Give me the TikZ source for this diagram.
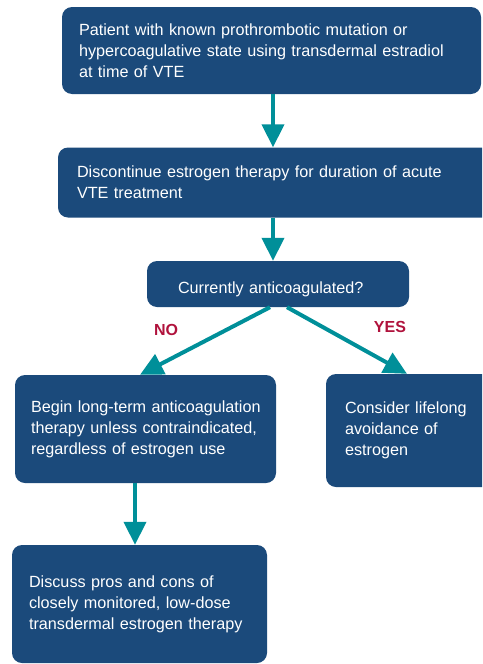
\documentclass[tikz,border=0pt]{standalone}
\usepackage{fontspec}
\setmainfont{Liberation Sans}
\usetikzlibrary{arrows.meta}
\definecolor{boxblue}{RGB}{27,74,123}
\definecolor{flowteal}{RGB}{0,143,153}
\definecolor{answerred}{RGB}{176,18,60}
\begin{document}
\begin{tikzpicture}[x=1pt,y=-1pt,
  card/.style={rectangle, rounded corners=10pt, fill=boxblue, text=white,
    font=\fontsize{16.2}{21}\selectfont, inner ysep=0pt, align=left},
  flow/.style={draw=flowteal, line width=4pt, -{Triangle[width=22pt,length=23pt]}},
  answer/.style={text=answerred, font=\fontsize{16}{19}\selectfont\bfseries, inner sep=0pt}]
\useasboundingbox (0,0) rectangle (482,664);
\clip (0,0) rectangle (482,664);

% decision boxes
\node[card, minimum width=419pt, minimum height=87pt, inner xsep=17pt, text width=385pt]
  (patient) at (271.5,50.5)
  {Patient with known prothrombotic mutation or\\hypercoagulative state using transdermal estradiol\\at time of VTE};
\node[card, minimum width=450pt, minimum height=70pt, inner xsep=19pt, text width=412pt]
  (stop) at (283,182.5)
  {Discontinue estrogen therapy for duration of acute\\VTE treatment};
\node[card, minimum width=262pt, minimum height=46pt, inner xsep=31pt, text width=200pt]
  (question) at (278,284)
  {\rule{0pt}{23pt}Currently anticoagulated?};
\node[card, minimum width=261pt, minimum height=108pt, inner xsep=16pt, text width=229pt]
  (longterm) at (145.5,429)
  {\mbox{Begin long-term anticoagulation}\\therapy unless contraindicated,\\regardless of estrogen use};
\node[card, minimum width=180pt, minimum height=113pt, inner xsep=19pt, text width=142pt]
  (avoid) at (416,430.5)
  {Consider lifelong\\avoidance of\\estrogen};
\node[card, minimum width=255pt, minimum height=118pt, inner xsep=17pt, text width=221pt]
  (discuss) at (139.5,604)
  {Discuss pros and cons of\\closely monitored, low-dose\\transdermal estrogen therapy};

% connectors
\draw[flow] ([xshift=1.5pt]patient.south) -- ([xshift=-10pt]stop.north);
\draw[flow] ([xshift=-10pt]stop.south) -- ([xshift=-5pt]question.north);
\draw[flow] ([xshift=-8pt]question.south) -- ([xshift=-5.5pt]longterm.north);
\draw[flow] ([xshift=9pt]question.south) -- ([xshift=-9pt]avoid.north);
\draw[flow] ([xshift=-10.5pt]longterm.south) -- ([xshift=-4.5pt]discuss.north);

% branch labels
\node[answer] (no) at (166,330) {NO};
\node[answer] (yes) at (390,327) {YES};
\end{tikzpicture}
\end{document}
